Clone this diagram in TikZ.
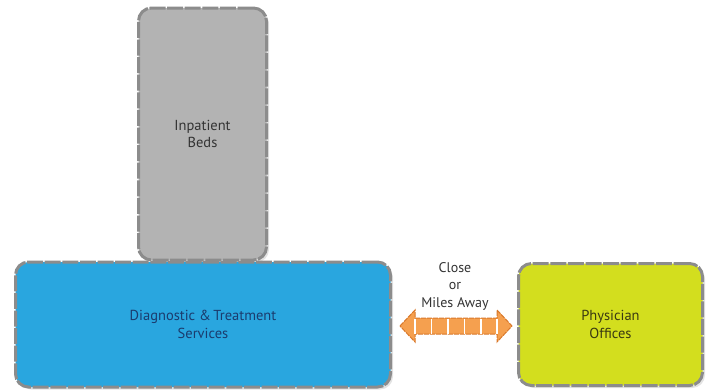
\documentclass[tikz,border=0pt]{standalone}
\usepackage{fontspec}
\setmainfont{PT Sans}
\usetikzlibrary{shadows}
\definecolor{bordergray}{HTML}{8C8C8C}
\definecolor{grayfill}{HTML}{B3B3B3}
\definecolor{bluefill}{HTML}{29A6DF}
\definecolor{greenfill}{HTML}{D3DE1E}
\definecolor{orangefill}{HTML}{F5A04F}
\definecolor{orangeline}{HTML}{D9782A}
\definecolor{bluetext}{HTML}{1B3C6E}
\definecolor{greentext}{HTML}{3A3A12}
\definecolor{graytext}{HTML}{333333}
\begin{document}
\begin{tikzpicture}[x=1pt,y=-1pt,
  box/.style={rectangle, rounded corners=13pt, draw=bordergray, line width=3pt,
    dash pattern=on 16pt off 1.6pt, inner sep=0pt, align=center,
    font=\fontsize{14.5}{17.5}\selectfont,
    drop shadow={opacity=0.22, shadow xshift=2.5pt, shadow yshift=-2.5pt}},
  lbl/.style={align=center, font=\fontsize{14}{17.5}\selectfont, text=graytext},
  arrowsty/.style={fill=orangefill, draw=orangeline, line width=1pt, dash pattern=on 5pt off 1pt, line join=miter}
]
\useasboundingbox (0,0) rectangle (707,391);
\node[box, fill=grayfill, text=graytext, minimum width=128pt, minimum height=252pt] (beds) at (202.5,134) {Inpatient\\Beds};
\node[box, fill=bluefill, text=bluetext, minimum width=375pt, minimum height=125pt] (diag) at (203,324.5) {Diagnostic \&\,Treatment\\Services};
\node[box, fill=greenfill, text=greentext, minimum width=184pt, minimum height=122pt] (phys) at (610.5,324.5) {Physician\\Offices};
% double arrow between the two boxes
\coordinate (lt) at (400,326);
\coordinate (rt) at (512,326);
\draw[arrowsty] (lt) -- (415,310) -- (415,318) -- (497,318) -- (497,310) -- (rt)
  -- (497,342) -- (497,334) -- (415,334) -- (415,342) -- cycle;
\foreach \x in {415,431.5,448,464.5,481,497}
  \draw[white, line width=1.8pt] (\x,318.5) -- (\x,333.5);
\node[lbl] (dist) at (455,286) {Close\\or\\Miles Away};
\end{tikzpicture}
\end{document}
